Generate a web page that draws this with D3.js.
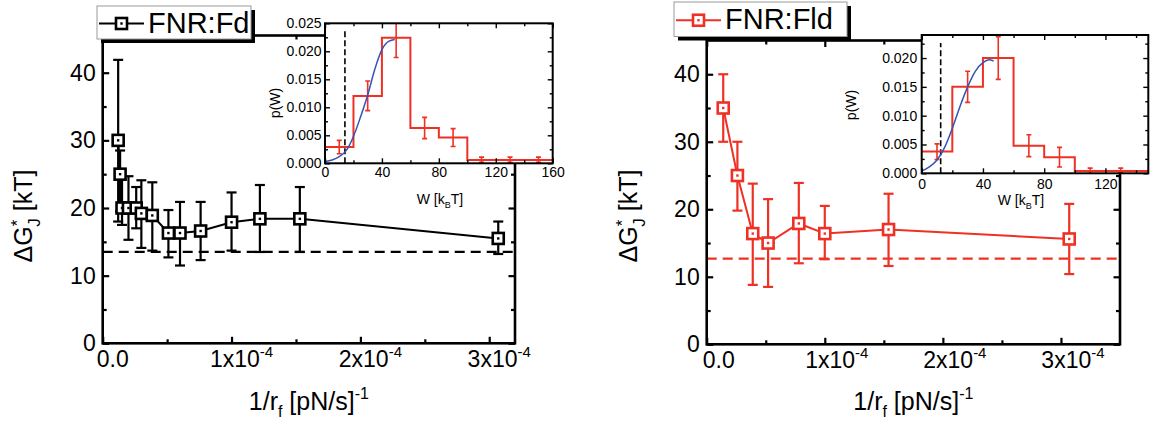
<html>
<head>
  <title>FNR unbinding barriers</title>
  <meta charset="utf-8" />
  <style type="text/css">
    body { margin: 0; background: white; }
    svg { font-family: "Liberation Sans", Arial, sans-serif; }
  </style>
  <script src="https://d3js.org/d3.v7.min.js" charset="utf-8"></script>
</head>
<body>
<svg id="chart" width="1158" height="424" style="background:white;"></svg>
<script>
  // ---- main panels: barrier vs inverse loading rate ----
  var fdRate = [1.2e-5, 1.35e-5, 1.5e-5, 2.0e-5, 2.6e-5, 3.0e-5, 3.85e-5, 5.1e-5, 6.0e-5, 7.6e-5, 1.0e-4, 1.22e-4, 1.53e-4, 3.07e-4];
  var fdG    = [30, 25, 20, 20, 20, 19.2, 18.9, 16.3, 16.3, 16.6, 17.9, 18.4, 18.4, 15.5];
  var fdHi   = [41.9, 28.5, 24.7, 24.7, 23.1, 24.1, 23.8, 19.7, 20.9, 20.9, 22.3, 23.4, 23.1, 18.0];
  var fdLo   = [18.0, 19.5, 17.5, 15.3, 17.0, 14.1, 13.7, 12.7, 11.5, 12.3, 13.7, 13.5, 13.5, 13.2];
  var fdDash = 13.5;

  var fldRate = [1.4e-5, 2.6e-5, 3.9e-5, 5.2e-5, 7.8e-5, 1.0e-4, 1.54e-4, 3.07e-4];
  var fldG    = [35, 25, 16.4, 15.0, 17.9, 16.4, 17.0, 15.6];
  var fldHi   = [40, 30, 23.8, 21.5, 23.9, 20.5, 22.3, 20.8];
  var fldLo   = [30, 19.8, 8.8, 8.5, 12.0, 12.6, 11.6, 10.4];
  var fldDash = 12.7;

  var xTickVals = [0, 1e-4, 2e-4, 3e-4];
  var xTickMant = ["0.0", "1x10", "2x10", "3x10"];
  var xTickExp  = ["", "-4", "-4", "-4"];

  // ---- insets: work histograms ----
  var binEdges = [0, 20, 40, 60, 80, 100, 120, 140, 160];
  var fdHist   = [0.0029, 0.0120, 0.0224, 0.0063, 0.0046, 0.0006, 0.0006, 0.0006];
  var fdHistHi = [0.0041, 0.0147, 0.0262, 0.0082, 0.0062, 0.0011, 0.0011, 0.0011];
  var fdHistLo = [0.0017, 0.0094, 0.0189, 0.0044, 0.0030, 0.0002, 0.0002, 0.0002];
  var fdFitW   = [0, 5, 10, 15, 20, 25, 30, 35, 40, 45, 49];
  var fdFitP   = [0.0003, 0.0006, 0.0012, 0.0023, 0.0048, 0.0083, 0.0122, 0.0168, 0.0203, 0.0218, 0.0221];
  var fdWdash  = 14;

  var fldHist   = [0.0038, 0.0150, 0.0200, 0.0048, 0.0028, 0.0004, 0.0004, 0.0004];
  var fldHistHi = [0.0051, 0.0177, 0.0237, 0.0067, 0.0045, 0.0009, 0.0009, 0.0009];
  var fldHistLo = [0.0024, 0.0123, 0.0163, 0.0029, 0.0011, 0.0000, 0.0001, 0.0001];
  var fldFitW   = [0, 5, 10, 15, 20, 25, 30, 35, 40, 44, 47];
  var fldFitP   = [0.0004, 0.0011, 0.0023, 0.0045, 0.0078, 0.0116, 0.0150, 0.0177, 0.0192, 0.0197, 0.0195];
  var fldWdash  = 12.4;

  var RED = "#ee3124", BLUE = "#3654b4";
  var svg = d3.select("#chart");

  // inward ticks through d3 axes, domain line removed (frame drawn as rect)
  function ticks(g, axisFn, scale, vals, len, tr, sw) {
    g.append("g").attr("transform", tr)
      .call(axisFn(scale).tickValues(vals).tickSize(-len).tickFormat(""))
      .call(function (s) { s.select(".domain").remove() })
      .selectAll("line").attr("stroke", "#000").attr("stroke-width", sw);
  }

  function frameTicks(g, x, y, o) {
    var x0 = x.range()[0], x1 = x.range()[1], y0 = y.range()[0], y1 = y.range()[1];
    [[o.xMaj, o.maj], [o.xMin, o.min]].forEach(function (t) {
      ticks(g, d3.axisBottom, x, t[0], t[1], "translate(0," + y0 + ")", o.tw);
      ticks(g, d3.axisTop, x, t[0], t[1], "translate(0," + y1 + ")", o.tw);
    });
    [[o.yMaj, o.maj], [o.yMin, o.min]].forEach(function (t) {
      ticks(g, d3.axisLeft, y, t[0], t[1], "translate(" + x0 + ",0)", o.tw);
      ticks(g, d3.axisRight, y, t[0], t[1], "translate(" + x1 + ",0)", o.tw);
    });
    g.append("rect").attr("x", x0).attr("y", y1).attr("width", x1 - x0).attr("height", y0 - y1)
      .attr("fill", "none").attr("stroke", "#000").attr("stroke-width", o.fw);
  }

  function mainPanel(o) {
    var g = svg.append("g");
    var x = d3.scaleLinear().domain(o.xDomain).range(o.xRange);
    var y = d3.scaleLinear().domain(o.yDomain).range(o.yRange);

    g.append("line")
      .attr("x1", o.xRange[0]).attr("x2", o.xRange[1])
      .attr("y1", y(o.dash)).attr("y2", y(o.dash))
      .attr("stroke", o.color).attr("stroke-width", 2.3).attr("stroke-dasharray", "10,6");

    var pts = o.rate.map(function (r, i) { return { x: r, g: o.G[i], hi: o.hi[i], lo: o.lo[i] } });

    g.append("path").datum(pts)
      .attr("d", d3.line().x(function (d) { return x(d.x) }).y(function (d) { return y(d.g) }))
      .attr("fill", "none").attr("stroke", o.color).attr("stroke-width", 2);

    var eb = g.selectAll("g.eb").data(pts).enter().append("g").attr("class", "eb")
      .attr("stroke", o.color).attr("stroke-width", 2.2);
    eb.append("line").attr("x1", function (d) { return x(d.x) }).attr("x2", function (d) { return x(d.x) })
      .attr("y1", function (d) { return y(d.hi) }).attr("y2", function (d) { return y(d.lo) });
    eb.append("line").attr("x1", function (d) { return x(d.x) - 5 }).attr("x2", function (d) { return x(d.x) + 5 })
      .attr("y1", function (d) { return y(d.hi) }).attr("y2", function (d) { return y(d.hi) });
    eb.append("line").attr("x1", function (d) { return x(d.x) - 5 }).attr("x2", function (d) { return x(d.x) + 5 })
      .attr("y1", function (d) { return y(d.lo) }).attr("y2", function (d) { return y(d.lo) });

    g.selectAll("rect.sq").data(pts).enter().append("rect").attr("class", "sq")
      .attr("x", function (d) { return x(d.x) - 5.5 }).attr("y", function (d) { return y(d.g) - 5.5 })
      .attr("width", 11).attr("height", 11)
      .attr("fill", "white").attr("stroke", o.color).attr("stroke-width", 2.6);
    g.selectAll("rect.dot").data(pts).enter().append("rect").attr("class", "dot")
      .attr("x", function (d) { return x(d.x) - 1.2 }).attr("y", function (d) { return y(d.g) - 1.2 })
      .attr("width", 2.4).attr("height", 2.4).attr("fill", o.color);

    frameTicks(g, x, y, {
      xMaj: xTickVals, xMin: [0.5e-4, 1.5e-4, 2.5e-4, 3.5e-4].filter(function (v) { return v < o.xDomain[1] }),
      yMaj: [0, 10, 20, 30, 40], yMin: [5, 15, 25, 35, 45].filter(function (v) { return v < o.yDomain[1] }),
      maj: 6.5, min: 4, tw: 2.2, fw: 2.6
    });

    // y tick labels
    g.append("g").attr("transform", "translate(" + o.xRange[0] + ",0)")
      .call(d3.axisLeft(y).tickValues([0, 10, 20, 30, 40]).tickSize(0).tickPadding(7))
      .call(function (s) { s.select(".domain").remove() })
      .attr("font-family", null).attr("font-size", 23)
      .selectAll("text").attr("fill", "#000");

    // x tick labels with exponent
    xTickVals.forEach(function (v, i) {
      var t = g.append("text").attr("x", x(v) + o.labShift).attr("y", o.yRange[0] + 23.5)
        .attr("text-anchor", "middle").attr("font-size", 23);
      t.append("tspan").text(xTickMant[i]);
      if (xTickExp[i]) t.append("tspan").attr("dy", -10).attr("font-size", 15).text(xTickExp[i]);
    });

    // x title
    var xt = g.append("text").attr("x", (o.xRange[0] + o.xRange[1]) / 2).attr("y", 410)
      .attr("text-anchor", "middle").attr("font-size", 25);
    xt.append("tspan").text("1/r");
    xt.append("tspan").attr("dy", 7).attr("font-size", 16).text("f");
    xt.append("tspan").attr("dy", -7).text(" [pN/s]");
    xt.append("tspan").attr("dy", -11).attr("font-size", 16).text("-1");

    // y title
    var yt = g.append("text").attr("transform", "translate(" + o.yTitleX + ",216) rotate(-90)")
      .attr("text-anchor", "middle").attr("font-size", 25);
    yt.append("tspan").text("\u0394G");
    yt.append("tspan").attr("dy", -9).attr("font-size", 17).text("*");
    yt.append("tspan").attr("dy", 17).attr("dx", -7).attr("font-size", 17).text("J");
    yt.append("tspan").attr("dy", -8).text(" [kT]");

    return { x: x, y: y };
  }

  function inset(o) {
    var g = svg.append("g");
    var x = d3.scaleLinear().domain(o.xDomain).range(o.xRange);
    var y = d3.scaleLinear().domain(o.yDomain).range(o.yRange);
    var id = "clip" + o.id;

    g.append("rect").attr("x", o.xRange[0]).attr("y", o.yRange[1])
      .attr("width", o.xRange[1] - o.xRange[0]).attr("height", o.yRange[0] - o.yRange[1]).attr("fill", "white");
    g.append("clipPath").attr("id", id).append("rect")
      .attr("x", o.xRange[0]).attr("y", o.yRange[1])
      .attr("width", o.xRange[1] - o.xRange[0]).attr("height", o.yRange[0] - o.yRange[1]);
    var c = g.append("g").attr("clip-path", "url(#" + id + ")");

    c.append("line").attr("x1", x(o.wDash)).attr("x2", x(o.wDash))
      .attr("y1", o.yRange[0]).attr("y2", o.yRange[1] + 8)
      .attr("stroke", "#000").attr("stroke-width", 1.6).attr("stroke-dasharray", "6,3");

    var steps = o.hist.map(function (v, i) { return [binEdges[i], v] });
    steps.push([binEdges[binEdges.length - 1], o.hist[o.hist.length - 1]]);
    c.append("path").datum(steps)
      .attr("d", d3.line().curve(d3.curveStepAfter).x(function (d) { return x(d[0]) }).y(function (d) { return y(d[1]) }))
      .attr("fill", "none").attr("stroke", RED).attr("stroke-width", 2);

    var bars = o.hist.map(function (v, i) { return { w: (binEdges[i] + binEdges[i + 1]) / 2, hi: o.hi[i], lo: o.lo[i] } });
    var eb = c.selectAll("g.ieb").data(bars).enter().append("g").attr("stroke", RED).attr("stroke-width", 1.6);
    eb.append("line").attr("x1", function (d) { return x(d.w) }).attr("x2", function (d) { return x(d.w) })
      .attr("y1", function (d) { return y(d.hi) }).attr("y2", function (d) { return y(d.lo) });
    [["hi"], ["lo"]].forEach(function (k) {
      eb.append("line").attr("x1", function (d) { return x(d.w) - 2.5 }).attr("x2", function (d) { return x(d.w) + 2.5 })
        .attr("y1", function (d) { return y(d[k[0]]) }).attr("y2", function (d) { return y(d[k[0]]) });
    });

    c.append("path").datum(o.fitW.map(function (w, i) { return [w, o.fitP[i]] }))
      .attr("d", d3.line().curve(d3.curveMonotoneX).x(function (d) { return x(d[0]) }).y(function (d) { return y(d[1]) }))
      .attr("fill", "none").attr("stroke", BLUE).attr("stroke-width", 1.5);

    frameTicks(g, x, y, {
      xMaj: o.xMaj, xMin: [20, 60, 100, 140], yMaj: o.yMaj, yMin: o.yMin,
      maj: 5, min: 3, tw: 1.4, fw: 2
    });

    g.append("g").attr("transform", "translate(" + o.xRange[0] + ",0)")
      .call(d3.axisLeft(y).tickValues(o.yMaj).tickSize(0).tickPadding(o.yPad).tickFormat(d3.format(".3f")))
      .call(function (s) { s.select(".domain").remove() })
      .attr("font-family", null).attr("font-size", 14).selectAll("text").attr("fill", "#000");
    g.append("g").attr("transform", "translate(0," + o.yRange[0] + ")")
      .call(d3.axisBottom(x).tickValues(o.xMaj).tickSize(0).tickPadding(o.xPad).tickFormat(d3.format("d")))
      .call(function (s) { s.select(".domain").remove() })
      .attr("font-family", null).attr("font-size", 14).selectAll("text").attr("fill", "#000");

    var wt = g.append("text").attr("x", o.wTitle[0]).attr("y", o.wTitle[1]).attr("text-anchor", "middle").attr("font-size", 14);
    wt.append("tspan").text("W [k");
    wt.append("tspan").attr("dy", 4).attr("font-size", 9).text("B");
    wt.append("tspan").attr("dy", -4).text("T]");

    g.append("text").attr("transform", "translate(" + o.pTitle[0] + "," + o.pTitle[1] + ") rotate(-90)")
      .attr("text-anchor", "middle").attr("font-size", 14).text("p(W)");
  }

  function legend(o) {
    var g = svg.append("g");
    g.append("rect").attr("x", o.x + 4).attr("y", o.y + 4).attr("width", o.w).attr("height", o.h).attr("fill", "#000");
    g.append("rect").attr("x", o.x).attr("y", o.y).attr("width", o.w).attr("height", o.h)
      .attr("fill", "white").attr("stroke", "#999").attr("stroke-width", 1);
    var cy = o.y + o.h / 2 + 1;
    g.append("line").attr("x1", o.x + 2).attr("x2", o.x + 47).attr("y1", cy).attr("y2", cy)
      .attr("stroke", o.color).attr("stroke-width", 2.2);
    g.append("rect").attr("x", o.x + 24.5 - 5.5).attr("y", cy - 5.5).attr("width", 11).attr("height", 11)
      .attr("fill", "white").attr("stroke", o.color).attr("stroke-width", 2.6);
    g.append("rect").attr("x", o.x + 24.5 - 1.2).attr("y", cy - 1.2).attr("width", 2.4).attr("height", 2.4).attr("fill", o.color);
    g.append("text").attr("x", o.x + 51).attr("y", o.y + 26.5).attr("font-size", 29).text(o.label);
  }

  mainPanel({
    rate: fdRate, G: fdG, hi: fdHi, lo: fdLo, dash: fdDash, color: "#000",
    xDomain: [0, 3.2e-4], xRange: [102.7, 515], yDomain: [0, 45.5], yRange: [343.3, 35.5],
    labShift: 10, yTitleX: 32
  });
  mainPanel({
    rate: fldRate, G: fldG, hi: fldHi, lo: fldLo, dash: fldDash, color: RED,
    xDomain: [0, 3.5e-4], xRange: [706.7, 1120], yDomain: [0, 45], yRange: [344.3, 40.5],
    labShift: 12, yTitleX: 637
  });

  inset({
    id: "fd", hist: fdHist, hi: fdHistHi, lo: fdHistLo, fitW: fdFitW, fitP: fdFitP, wDash: fdWdash,
    xDomain: [0, 160], xRange: [325, 552.7], yDomain: [0, 0.025], yRange: [163.3, 23.3],
    xMaj: [0, 40, 80, 120, 160], yMaj: [0, 0.005, 0.01, 0.015, 0.02, 0.025],
    yMin: [0.0025, 0.0075, 0.0125, 0.0175, 0.0225], yPad: 3.5, xPad: 4,
    wTitle: [440, 204], pTitle: [280, 103]
  });
  inset({
    id: "fld", hist: fldHist, hi: fldHistHi, lo: fldHistLo, fitW: fldFitW, fitP: fldFitP, wDash: fldWdash,
    xDomain: [0, 148], xRange: [921.7, 1148.3], yDomain: [0, 0.024], yRange: [173.3, 35],
    xMaj: [0, 40, 80, 120], yMaj: [0, 0.005, 0.01, 0.015, 0.02],
    yMin: [0.0025, 0.0075, 0.0125, 0.0175, 0.0225], yPad: 4.5, xPad: 5.5,
    wTitle: [1021, 205], pTitle: [856, 105]
  });

  legend({ x: 97, y: 6, w: 154, h: 33, color: "#000", label: "FNR:Fd" });
  legend({ x: 674, y: 2, w: 173, h: 34.5, color: RED, label: "FNR:Fld" });
</script>
</body>
</html>
